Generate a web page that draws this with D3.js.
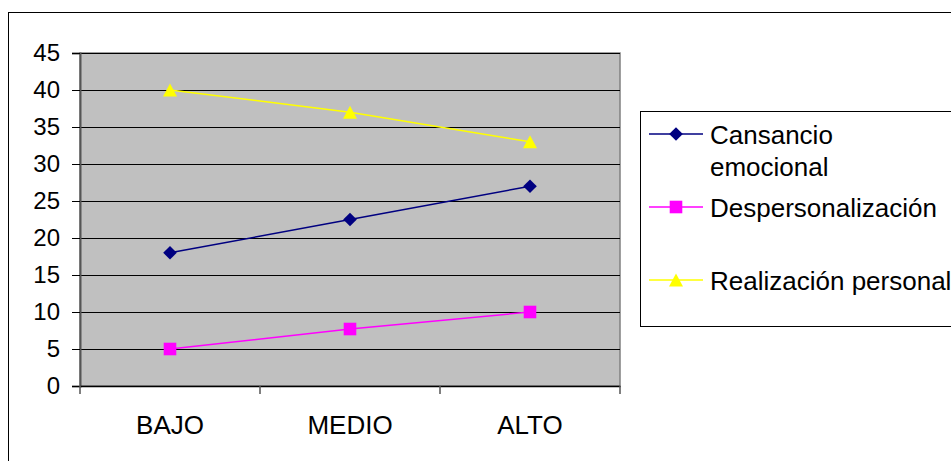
<!DOCTYPE html>
<html>
<head>
<meta charset="utf-8">
<script src="https://cdn.jsdelivr.net/npm/d3@7"></script>
<style>
  html, body { margin: 0; padding: 0; background: #fff; }
  svg { display: block; font-family: "Liberation Sans", Arial, sans-serif; }
</style>
</head>
<body>
<svg id="chart" width="951" height="461"></svg>
<script>
// Burnout dimensions by level
const categories = ["BAJO", "MEDIO", "ALTO"];
const cansancio = [18, 22.5, 27];
const despersonalizacion = [5, 7.7, 10];
const realizacion = [40, 37, 33];
const yTicks = [0, 5, 10, 15, 20, 25, 30, 35, 40, 45];
const seriesNames = [["Cansancio", "emocional"], ["Despersonalización"], ["Realización personal"]];
const seriesColors = ["#000080", "#ff00ff", "#ffff00"];
const seriesMarkers = ["diamond", "square", "triangle"];

// marker outlines, centred on the data point
const markerPath = {
  diamond: "M0,-6.8L6.8,0L0,6.8L-6.8,0Z",
  square: "M-6.3,-6.3H6.3V6.3H-6.3Z",
  triangle: "M0,-6.5L7,6.5H-7Z"
};

const series = [cansancio, despersonalizacion, realizacion].map((values, i) => ({
  names: seriesNames[i], color: seriesColors[i], marker: seriesMarkers[i], values
}));

const svg = d3.select("#chart");

// chart frame
svg.append("rect")
  .attr("x", 8.5).attr("y", 12.5).attr("width", 1000).attr("height", 1000)
  .attr("fill", "#fff").attr("stroke", "#000").attr("stroke-width", 1);

const plot = { left: 80, right: 620, top: 53, bottom: 386 };

const x = d3.scaleBand().domain(categories).range([plot.left, plot.right]);
const y = d3.scaleLinear().domain([0, 45]).range([plot.bottom, plot.top]);

// plot area
svg.append("rect")
  .attr("x", plot.left).attr("y", plot.top)
  .attr("width", plot.right - plot.left).attr("height", plot.bottom - plot.top)
  .attr("fill", "#c0c0c0")
  .attr("stroke", "#808080").attr("stroke-width", 1.5);

// horizontal gridlines
svg.append("g")
  .selectAll("line")
  .data(yTicks.filter(t => t > 0))
  .join("line")
  .attr("x1", plot.left).attr("x2", plot.right)
  .attr("y1", d => Math.round(y(d)) + 0.5).attr("y2", d => Math.round(y(d)) + 0.5)
  .attr("stroke", "#000").attr("stroke-width", 1);

// y axis
const yAxis = svg.append("g")
  .attr("transform", `translate(${plot.left},0)`)
  .call(d3.axisLeft(y).tickValues(yTicks).tickSize(8).tickPadding(12).tickFormat(d3.format("d")));
yAxis.select(".domain").attr("stroke", "#555").attr("stroke-width", 2);
yAxis.selectAll(".tick line").attr("stroke", "#000");
yAxis.selectAll(".tick text")
  .attr("font-size", 24).attr("fill", "#000")
  .attr("font-family", "Liberation Sans, Arial, sans-serif");

// x axis
const xAxis = svg.append("g")
  .attr("transform", `translate(0,${plot.bottom})`)
  .call(d3.axisBottom(x).tickSize(0).tickPadding(30));
xAxis.select(".domain").attr("stroke", "#000").attr("stroke-width", 1.5);
xAxis.selectAll(".tick text")
  .attr("font-size", 26).attr("fill", "#000")
  .attr("font-family", "Liberation Sans, Arial, sans-serif");
// category boundary ticks
svg.append("g")
  .selectAll("line")
  .data(categories.concat([null]))
  .join("line")
  .attr("x1", (d, i) => plot.left + i * x.step())
  .attr("x2", (d, i) => plot.left + i * x.step())
  .attr("y1", plot.bottom).attr("y2", plot.bottom + 8)
  .attr("stroke", "#555").attr("stroke-width", 1.5);

const cx = c => x(c) + x.bandwidth() / 2;
const line = d3.line().x((d, i) => cx(categories[i])).y(d => y(d));

// series lines and markers
series.forEach(s => {
  svg.append("path")
    .attr("d", line(s.values))
    .attr("fill", "none").attr("stroke", s.color).attr("stroke-width", 1.5);
});
series.forEach(s => {
  svg.append("g")
    .selectAll("path")
    .data(s.values)
    .join("path")
    .attr("transform", (d, i) => `translate(${cx(categories[i])},${y(d)})`)
    .attr("d", markerPath[s.marker])
    .attr("fill", s.color);
});

// legend
const legend = svg.append("g");
legend.append("rect")
  .attr("x", 640.5).attr("y", 111.5).attr("width", 400).attr("height", 215)
  .attr("fill", "#fff").attr("stroke", "#000").attr("stroke-width", 1);

const legendRows = [134, 207, 280];
series.forEach((s, i) => {
  const ly = legendRows[i];
  legend.append("line")
    .attr("x1", 649).attr("x2", 703).attr("y1", ly).attr("y2", ly)
    .attr("stroke", s.color).attr("stroke-width", 1.5);
  legend.append("path")
    .attr("transform", `translate(676,${ly})`)
    .attr("d", markerPath[s.marker])
    .attr("fill", s.color);
  const t = legend.append("text")
    .attr("x", 710).attr("y", ly + 10)
    .attr("font-size", 26).attr("fill", "#000");
  s.names.forEach((n, j) => {
    t.append("tspan").attr("x", 710).attr("dy", j === 0 ? 0 : 32).text(n);
  });
});
</script>
</body>
</html>
